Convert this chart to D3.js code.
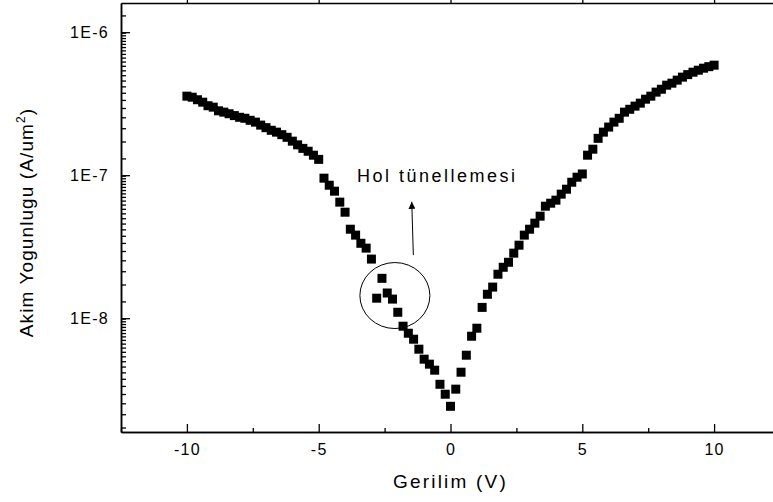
<!DOCTYPE html>
<html>
<head>
<meta charset="utf-8">
<script src="https://cdn.jsdelivr.net/npm/d3@7"></script>
<style>
  html, body { margin: 0; padding: 0; background: #fff; }
  svg { display: block; }
  text { font-family: "Liberation Sans", Arial, sans-serif; fill: #000; }
</style>
</head>
<body>
<svg id="chart" width="773" height="502"></svg>
<script>
// Voltage sweep (V), 0.2 V steps from -10 to 10
const voltage = d3.range(0, 101).map(i => +(-10 + i * 0.2).toFixed(1));

// Current density (A/um^2) for each voltage step
const currentDensity = [
  3.57e-7, 3.51e-7, 3.37e-7, 3.24e-7, 3.06e-7, 2.99e-7, 2.82e-7, 2.76e-7, 2.69e-7, 2.61e-7,
  2.54e-7, 2.50e-7, 2.42e-7, 2.35e-7, 2.24e-7, 2.15e-7, 2.06e-7, 2.00e-7, 1.92e-7, 1.84e-7,
  1.73e-7, 1.63e-7, 1.54e-7, 1.47e-7, 1.38e-7, 1.29e-7, 9.53e-8, 8.51e-8, 7.73e-8, 6.48e-8,
  5.51e-8, 4.19e-8, 3.81e-8, 3.34e-8, 3.09e-8, 2.59e-8, 1.38e-8, 1.90e-8, 1.50e-8, 1.36e-8,
  1.10e-8, 8.79e-9, 7.85e-9, 7.13e-9, 6.07e-9, 5.17e-9, 4.77e-9, 4.33e-9, 3.45e-9, 2.94e-9,
  2.42e-9,
  3.19e-9, 4.19e-9, 5.51e-9, 7.48e-9, 8.51e-9, 1.19e-8, 1.47e-8, 1.65e-8, 2.03e-8, 2.27e-8,
  2.46e-8, 2.85e-8, 3.24e-8, 3.81e-8, 4.19e-8, 4.62e-8, 5.17e-8, 6.07e-8, 6.37e-8, 6.69e-8,
  7.37e-8, 7.98e-8, 8.93e-8, 9.68e-8, 1.02e-7, 1.38e-7, 1.52e-7, 1.81e-7, 2.00e-7, 2.17e-7,
  2.35e-7, 2.50e-7, 2.76e-7, 2.89e-7, 3.04e-7, 3.19e-7, 3.40e-7, 3.57e-7, 3.81e-7, 3.99e-7,
  4.26e-7, 4.40e-7, 4.62e-7, 4.85e-7, 5.05e-7, 5.25e-7, 5.42e-7, 5.60e-7, 5.74e-7, 5.88e-7
];

// Axis ticks
const xMajorTicks = [-10, -5, 0, 5, 10];
const xTickLabels = ["-10", "-5", "0", "5", "10"];
const xMinorTicks = [-12.5, -7.5, -2.5, 2.5, 7.5, 12.5];
const yMajorTicks = [1e-8, 1e-7, 1e-6];
const yTickLabels = ["1E-8", "1E-7", "1E-6"];
const yMinorSteps = d3.range(1, 23).map(k => 0.9 + 0.41 * k);
const yDecades = [1e-9, 1e-8, 1e-7, 1e-6];

// Annotation: circled region and its label
const noteText = "Hol tünellemesi";
const noteAnchor = { v: -3.55, j: 9.0e-8 };
const circleCenter = { v: -2.11, j: 1.44e-8 };
const arrowTail = { v: -1.41, j: 2.76e-8 };
const arrowTip = { v: -1.47, j: 6.51e-8 };

const xTitle = "Gerilim (V)";
const yTitle = "Akim Yogunlugu (A/um";

const svg = d3.select("#chart");
const m = { left: 121, right: 780, top: 3, bottom: 432 };

const x = d3.scaleLinear().domain([-12.5, 12.5]).range([m.left, m.right]);
const y = d3.scaleLog().domain([1.6e-9, 1.6e-6]).range([m.bottom, m.top]);

const yMinorTicks = [];
yDecades.forEach(d => yMinorSteps.forEach(s => {
  const v = d * s;
  if (v > y.domain()[0] && v < y.domain()[1]) yMinorTicks.push(v);
}));

const axisStyle = g => {
  g.selectAll("path.domain").attr("stroke", "#000").attr("stroke-width", 1.5);
  g.selectAll(".tick line").attr("stroke", "#000").attr("stroke-width", 1.3);
  g.selectAll(".tick text")
    .attr("font-family", "Liberation Sans, Arial, sans-serif")
    .attr("font-size", 16)
    .attr("letter-spacing", "1.3px")
    .attr("fill", "#000");
};

// Bottom axis
svg.append("g").attr("transform", `translate(0,${m.bottom})`)
  .call(d3.axisBottom(x).tickValues(xMinorTicks).tickSizeInner(-4).tickSizeOuter(0).tickFormat(""))
  .call(axisStyle);
svg.append("g").attr("transform", `translate(0,${m.bottom})`)
  .call(d3.axisBottom(x).tickValues(xMajorTicks).tickSizeInner(-8).tickSizeOuter(0).tickPadding(12)
    .tickFormat((d, i) => xTickLabels[i]))
  .call(axisStyle);

// Top axis (frame)
svg.append("g").attr("transform", `translate(0,${m.top})`)
  .call(d3.axisTop(x).tickValues(xMajorTicks).tickSizeInner(6).tickSizeOuter(0).tickFormat(""))
  .call(axisStyle);

// Left axis
svg.append("g").attr("transform", `translate(${m.left},0)`)
  .call(d3.axisLeft(y).tickValues(yMinorTicks).tickSizeInner(-5).tickSizeOuter(0).tickFormat(""))
  .call(axisStyle);
svg.append("g").attr("transform", `translate(${m.left},0)`)
  .call(d3.axisLeft(y).tickValues(yMajorTicks).tickSizeInner(-9).tickSizeOuter(0).tickPadding(12)
    .tickFormat((d, i) => yTickLabels[i]))
  .call(axisStyle);

// Right axis (frame)
svg.append("g").attr("transform", `translate(${m.right},0)`)
  .call(d3.axisRight(y).tickValues(yMajorTicks).tickSizeInner(6).tickSizeOuter(0).tickFormat(""))
  .call(axisStyle);

// Data squares
const pts = voltage.map((v, i) => ({ v, j: currentDensity[i] }));
const size = 9;
svg.append("g").selectAll("rect").data(pts).join("rect")
  .attr("x", d => x(d.v) - size / 2)
  .attr("y", d => y(d.j) - size / 2)
  .attr("width", size).attr("height", size)
  .attr("fill", "#000");

// Annotation
svg.append("ellipse")
  .attr("cx", x(circleCenter.v)).attr("cy", y(circleCenter.j))
  .attr("rx", 35).attr("ry", 33)
  .attr("fill", "none").attr("stroke", "#000").attr("stroke-width", 1);

svg.append("defs").append("marker")
  .attr("id", "head").attr("viewBox", "0 0 10 10")
  .attr("refX", 10).attr("refY", 5)
  .attr("markerWidth", 10).attr("markerHeight", 7)
  .attr("markerUnits", "userSpaceOnUse")
  .attr("orient", "auto")
  .append("path").attr("d", "M0,0 L10,5 L0,10 Z").attr("fill", "#000");

svg.append("line")
  .attr("x1", x(arrowTail.v)).attr("y1", y(arrowTail.j))
  .attr("x2", x(arrowTip.v)).attr("y2", y(arrowTip.j))
  .attr("stroke", "#000").attr("stroke-width", 1)
  .attr("marker-end", "url(#head)");

svg.append("text")
  .attr("x", x(noteAnchor.v)).attr("y", y(noteAnchor.j))
  .attr("font-size", 18).attr("letter-spacing", "2.5px")
  .text(noteText);

// Axis titles
svg.append("text")
  .attr("x", x(0)).attr("y", 488)
  .attr("text-anchor", "middle")
  .attr("font-size", 19).attr("letter-spacing", "2.2px")
  .text(xTitle);

const yt = svg.append("text")
  .attr("transform", `translate(33,${(m.top + m.bottom) / 2 + 5}) rotate(-90)`)
  .attr("text-anchor", "middle")
  .attr("font-size", 19).attr("letter-spacing", "1.1px");
yt.append("tspan").text(yTitle);
yt.append("tspan").attr("dy", -8).attr("font-size", 12).text("2");
yt.append("tspan").attr("dy", 8).text(")");
</script>
</body>
</html>
